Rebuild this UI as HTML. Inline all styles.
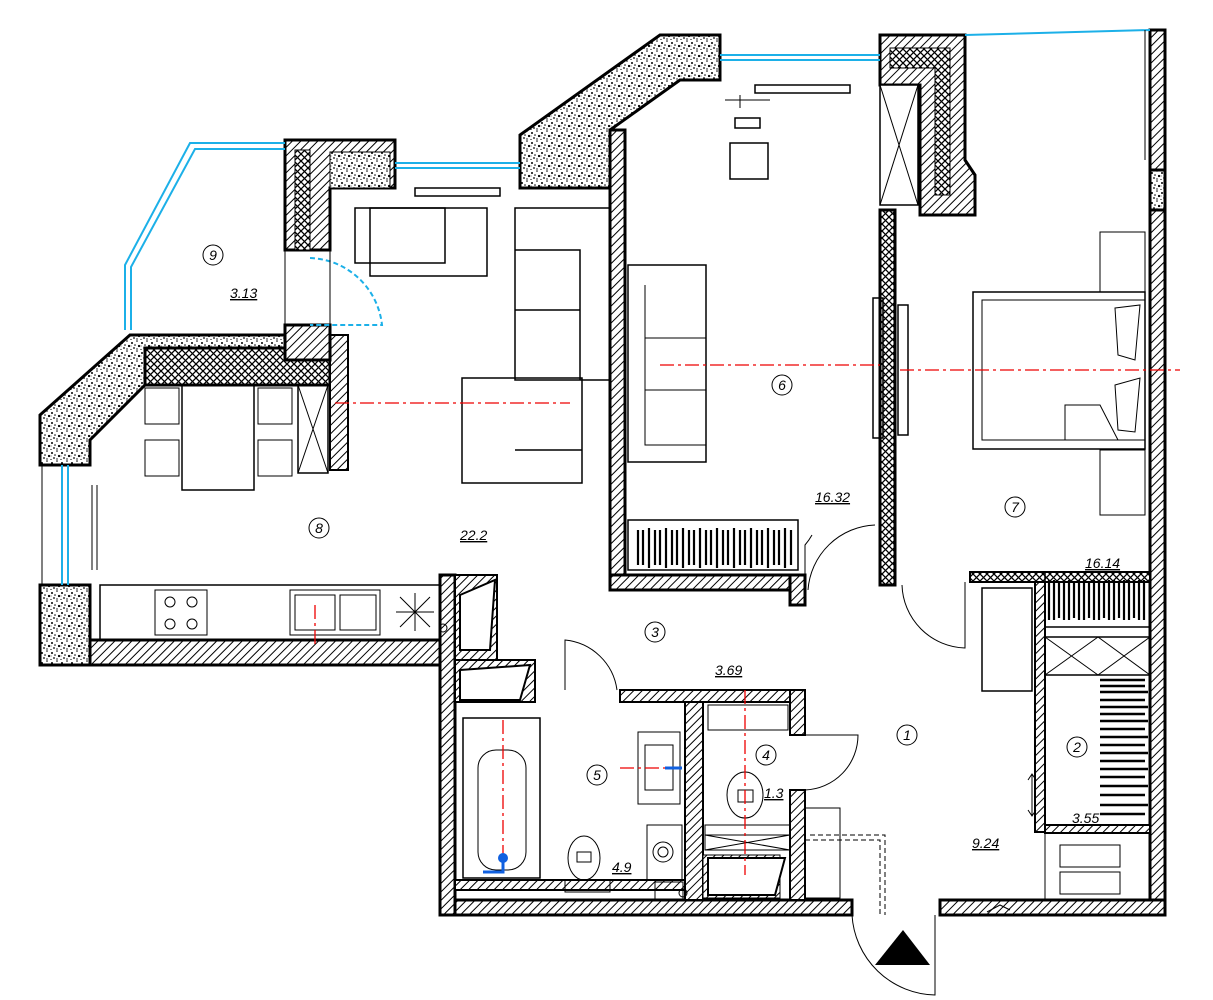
<!DOCTYPE html>
<html><head><meta charset="utf-8"><style>
html,body{margin:0;padding:0;background:#fff;}
svg{display:block;}
text{font-family:"Liberation Sans",sans-serif;}
.lbl{font-size:14px;font-style:italic;text-decoration:underline;}
.num{font-size:14px;font-style:italic;}
</style></head><body>
<svg width="1213" height="1000" viewBox="0 0 1213 1000" xmlns="http://www.w3.org/2000/svg">
<defs>
<pattern id="h" width="6" height="6" patternUnits="userSpaceOnUse" patternTransform="rotate(45)">
<rect width="6" height="6" fill="#fff"/><line x1="0" y1="0" x2="0" y2="6" stroke="#000" stroke-width="2"/></pattern>
<pattern id="x" width="7" height="7" patternUnits="userSpaceOnUse">
<rect width="7" height="7" fill="#fff"/><path d="M0 0L7 7M7 0L0 7" stroke="#000" stroke-width="1.3"/></pattern>
<pattern id="s" width="10" height="10" patternUnits="userSpaceOnUse">
<rect width="10" height="10" fill="#fff"/>
<circle cx="2" cy="3" r="1"/><circle cx="7" cy="1" r="0.8"/><circle cx="9" cy="6" r="1.1"/><circle cx="4" cy="8" r="0.9"/><circle cx="7" cy="9" r="0.7"/><circle cx="1" cy="9.5" r="0.6"/><circle cx="5" cy="5" r="0.8"/><circle cx="1" cy="6" r="0.5"/></pattern>
</defs>
<g stroke="#000" stroke-width="3">
<polygon points="90,640 455,640 455,665 40,665 40,640" fill="url(#h)"/>
<rect x="40" y="585" width="50" height="80" fill="url(#s)"/>
<polygon points="40,415 130,335 330,335 330,385 145,385 90,440 90,465 40,465" fill="url(#s)"/>
<polygon points="145,348 330,348 330,385 145,385" fill="url(#x)"/>
<rect x="330" y="335" width="18" height="135" fill="url(#h)" stroke-width="2"/>
<polygon points="285,140 395,140 395,188 330,188 330,250 285,250" fill="url(#h)"/>
<rect x="330" y="152" width="60" height="36" fill="url(#s)" stroke-width="1"/>
<rect x="295" y="150" width="15" height="100" fill="url(#x)" stroke-width="1"/>
<polygon points="285,325 330,325 330,360 285,360" fill="url(#h)"/>
<polygon points="520,135 660,35 720,35 720,80 680,80 610,130 610,188 520,188 520,155" fill="url(#s)"/>
<rect x="610" y="130" width="15" height="460" fill="url(#h)"/>
<rect x="610" y="575" width="195" height="15" fill="url(#h)"/>
<rect x="790" y="575" width="15" height="30" fill="url(#h)"/>
<rect x="880" y="210" width="15" height="375" fill="url(#x)"/>
<polygon points="880,35 965,35 965,160 975,175 975,215 920,215 920,85 880,85" fill="url(#h)"/>
<polygon points="890,48 950,48 950,195 935,195 935,68 890,68" fill="url(#x)" stroke-width="1"/>
<rect x="880" y="85" width="38" height="120" fill="#fff" stroke-width="1.5"/>
<path d="M880 85L918 205M918 85L880 205" stroke-width="1"/>
<rect x="1150" y="30" width="15" height="885" fill="url(#h)"/>
<rect x="1150" y="170" width="15" height="40" fill="url(#s)"/>
<rect x="440" y="900" width="412" height="15" fill="url(#h)"/>
<rect x="940" y="900" width="225" height="15" fill="url(#h)"/>
<rect x="440" y="575" width="15" height="340" fill="url(#h)"/>
<rect x="455" y="575" width="42" height="85" fill="url(#h)" stroke-width="2"/>
<rect x="455" y="660" width="80" height="42" fill="url(#h)" stroke-width="2"/>
<rect x="620" y="690" width="185" height="12" fill="url(#h)" stroke-width="2"/>
<rect x="685" y="702" width="18" height="198" fill="url(#h)" stroke-width="2"/>
<rect x="790" y="690" width="15" height="45" fill="url(#h)" stroke-width="2"/>
<rect x="790" y="790" width="15" height="110" fill="url(#h)" stroke-width="2"/>
<rect x="455" y="880" width="230" height="10" fill="url(#h)" stroke-width="2"/>
<rect x="970" y="572" width="180" height="10" fill="url(#x)" stroke-width="2"/>
<rect x="1035" y="582" width="10" height="250" fill="url(#h)" stroke-width="2"/>
<rect x="1045" y="825" width="105" height="8" fill="url(#h)" stroke-width="2"/>
</g>
<g stroke="#1cb0e8" stroke-width="2" fill="none">
<path d="M125,330 L125,265 L190,143 L285,143"/>
<path d="M131,330 L131,267 L195,149 L285,149"/>
<path d="M395,163 L520,163 M395,168 L520,168"/>
<path d="M720,55 L880,55 M720,60 L880,60"/>
<path d="M965,35 L1150,30"/>
<path d="M62,465 L62,585 M68,465 L68,585"/>
<path d="M310,258 A75 75 0 0 1 382,325 L310,325" stroke-dasharray="5,3"/>
</g>
<g stroke="#000" stroke-width="1" fill="none">
<path d="M42,465 L42,585"/>
<path d="M285,250 L285,325 M330,250 L330,325"/>
<path d="M1145,30 L1145,160"/>
<rect x="415" y="188" width="85" height="8" stroke-width="1.5"/>
<rect x="355" y="208" width="90" height="55" stroke-width="1.5"/>
<rect x="370" y="208" width="117" height="68" stroke-width="1.5"/>
<rect x="515" y="208" width="95" height="172" stroke-width="1.5"/>
<path d="M515 250H580V380M515 310H580" stroke-width="1.5"/>
<rect x="462" y="378" width="120" height="105" stroke-width="1.5"/>
<path d="M515 450H582" stroke-width="1.5"/>
<rect x="182" y="385" width="72" height="105" stroke-width="1.5"/>
<rect x="145" y="388" width="34" height="36" /><rect x="145" y="440" width="34" height="36"/>
<rect x="258" y="388" width="34" height="36" /><rect x="258" y="440" width="34" height="36"/>
<rect x="298" y="385" width="30" height="88" stroke-width="1.5"/><path d="M298 385L328 473M328 385L298 473"/>
<path d="M92 485V570M97 485V570"/>
<rect x="100" y="585" width="340" height="55" stroke-width="1.5"/>
<rect x="155" y="590" width="52" height="45"/>
<circle cx="170" cy="602" r="5"/><circle cx="192" cy="602" r="5"/><circle cx="170" cy="624" r="5"/><circle cx="192" cy="624" r="5"/>
<rect x="290" y="590" width="90" height="45"/><rect x="295" y="595" width="40" height="35"/><rect x="340" y="595" width="36" height="35"/>
<path d="M400 597L430 627M430 597L400 627M415 593V631M396 612H434"/>
<circle cx="443" cy="628" r="4"/>
<rect x="730" y="143" width="38" height="36" stroke-width="1.5"/>
<rect x="755" y="85" width="95" height="8" stroke-width="1.5"/>
<rect x="735" y="118" width="25" height="10" stroke-width="1.5"/>
<path d="M725 100H770M740 95V108"/>
<rect x="628" y="265" width="78" height="197" stroke-width="1.5"/>
<path d="M645 285V445H706M645 338H706M645 390H706"/>
<rect x="628" y="520" width="170" height="50" stroke-width="1.5"/>
<g stroke-width="2.2"><path d="M638 530V565M643 530V565M649 528V568M655 530V565M660 530V565M666 528V568M672 530V565M677 530V565M683 528V568M689 530V565M694 530V565M700 528V568M706 530V565M711 530V565M717 528V568M723 530V565M728 530V565M734 528V568M740 530V565M745 530V565M751 528V568M757 530V565M762 530V565M768 528V568M774 530V565M779 530V565M785 528V568M791 530V565"/></g>
<rect x="873" y="298" width="10" height="140" stroke-width="1.5"/>
<rect x="898" y="305" width="10" height="130" stroke-width="1.5"/>
<rect x="1100" y="232" width="45" height="60"/>
<rect x="1100" y="450" width="45" height="65"/>
<rect x="973" y="292" width="172" height="157" stroke-width="1.5"/>
<rect x="982" y="300" width="163" height="140"/>
<path d="M1065 405H1100L1118 440H1065Z"/>
<path d="M1115 308L1140 305L1135 360L1118 355Z"/>
<path d="M1115 385L1140 378L1135 432L1118 430Z"/>
<rect x="1045" y="572" width="105" height="55" stroke-width="1.5"/>
<g stroke-width="2.2"><path d="M1049 580V620M1054 580V620M1059 582V618M1064 580V620M1069 580V620M1074 582V618M1079 580V620M1084 580V620M1089 582V618M1094 580V620M1099 580V620M1104 582V618M1109 580V620M1114 580V620M1119 582V618M1124 580V620M1129 580V620M1134 582V618M1139 580V620M1144 580V620"/></g>
<rect x="982" y="588" width="50" height="103" stroke-width="1.5"/>
<rect x="1045" y="637" width="105" height="38" stroke-width="1.5"/><path d="M1045 637L1098 675M1098 637L1045 675M1098 637L1150 675M1150 637L1098 675"/>
<g stroke-width="2.5"><path d="M1100 680H1145M1100 686H1145M1100 692H1148M1100 700H1145M1100 707H1148M1100 714H1145M1100 721H1148M1100 729H1145M1100 737H1148M1100 745H1145M1100 753H1148M1100 761H1145M1100 769H1148M1100 777H1145M1100 786H1148M1100 795H1145M1100 805H1148M1100 814H1145"/></g>
<path d="M1032 775V815M1028 780L1032 774L1036 780M1028 810L1032 816L1036 810"/>
<path d="M1045 700V900"/>
<rect x="1060" y="845" width="60" height="22"/><rect x="1060" y="872" width="60" height="22"/>
<path d="M805 605V545A65 65 0 0 0 812 535" />
<path d="M808 590A70 70 0 0 1 875 525"/>
<path d="M902 585A65 65 0 0 0 965 648V582"/>
<path d="M617 690A58 58 0 0 0 565 640V690"/>
<path d="M805 735H858A55 55 0 0 1 805 790"/>
<path d="M852 915A85 85 0 0 0 935 995V915"/>
<path d="M852 900V910M805 840H880V915M810 835H885V915" stroke-dasharray="5,3"/>
<path d="M987 912L1000 905L1010 910"/>
<rect x="463" y="718" width="77" height="160" stroke-width="1.5"/>
<rect x="478" y="750" width="48" height="120" rx="18"/>
<rect x="638" y="732" width="42" height="72"/><rect x="645" y="745" width="28" height="45"/>
<ellipse cx="584" cy="858" rx="16" ry="22"/><rect x="577" y="852" width="14" height="10"/>
<rect x="565" y="880" width="45" height="12"/>
<rect x="647" y="825" width="35" height="55"/><circle cx="663" cy="852" r="10"/><circle cx="663" cy="852" r="5"/>
<rect x="655" y="882" width="28" height="18"/><circle cx="683" cy="893" r="4"/>
<rect x="708" y="705" width="80" height="25"/>
<ellipse cx="745" cy="795" rx="18" ry="23"/><rect x="738" y="790" width="15" height="12"/>
<rect x="705" y="825" width="85" height="10"/><rect x="705" y="835" width="85" height="15"/><path d="M705 835L790 850M790 835L705 850"/>
<polygon points="703,855 780,855 780,898 703,898" fill="url(#h)"/>
<polygon points="460,595 495,580 490,650 460,650" fill="#fff" stroke-width="2"/>
<polygon points="460,670 530,665 520,700 460,700" fill="#fff" stroke-width="2"/>
<polygon points="708,858 785,858 775,895 708,895" fill="#fff" stroke-width="2"/>
<rect x="805" y="808" width="35" height="90"/>
</g>
<polygon points="875,965 930,965 903,930" fill="#000"/>
<g stroke="#e00" stroke-width="1.3" fill="none" stroke-dasharray="14,4,3,4">
<path d="M335 403H570"/><path d="M660 365H880"/><path d="M900 370H1180"/>
<path d="M503 720V855"/><path d="M745 690V875"/><path d="M315 605V648"/><path d="M620 768H680"/>
</g>
<path d="M503 858V872H483" stroke="#1060e0" stroke-width="3" fill="none"/><circle cx="503" cy="858" r="5" fill="#1060e0"/>
<path d="M665 768H682" stroke="#1060e0" stroke-width="3"/>
<g fill="none" stroke="#000" stroke-width="1">
<circle cx="213" cy="255" r="10"/><circle cx="319" cy="528" r="10"/><circle cx="782" cy="385" r="10"/>
<circle cx="1015" cy="507" r="10"/><circle cx="655" cy="632" r="10"/><circle cx="907" cy="735" r="10"/>
<circle cx="1077" cy="747" r="10"/><circle cx="766" cy="755" r="10"/><circle cx="597" cy="775" r="10"/>
</g>
<g class="num" text-anchor="middle">
<text x="213" y="260">9</text><text x="319" y="533">8</text><text x="782" y="390">6</text>
<text x="1015" y="512">7</text><text x="655" y="637">3</text><text x="907" y="740">1</text>
<text x="1077" y="752">2</text><text x="766" y="760">4</text><text x="597" y="780">5</text>
</g>
<g class="lbl">
<text x="230" y="298">3.13</text><text x="460" y="540">22.2</text><text x="815" y="502">16.32</text>
<text x="1085" y="568">16.14</text><text x="715" y="675">3.69</text><text x="764" y="798">1.3</text>
<text x="612" y="872">4.9</text><text x="972" y="848">9.24</text><text x="1072" y="823">3.55</text>
</g>
</svg>
</body></html>
